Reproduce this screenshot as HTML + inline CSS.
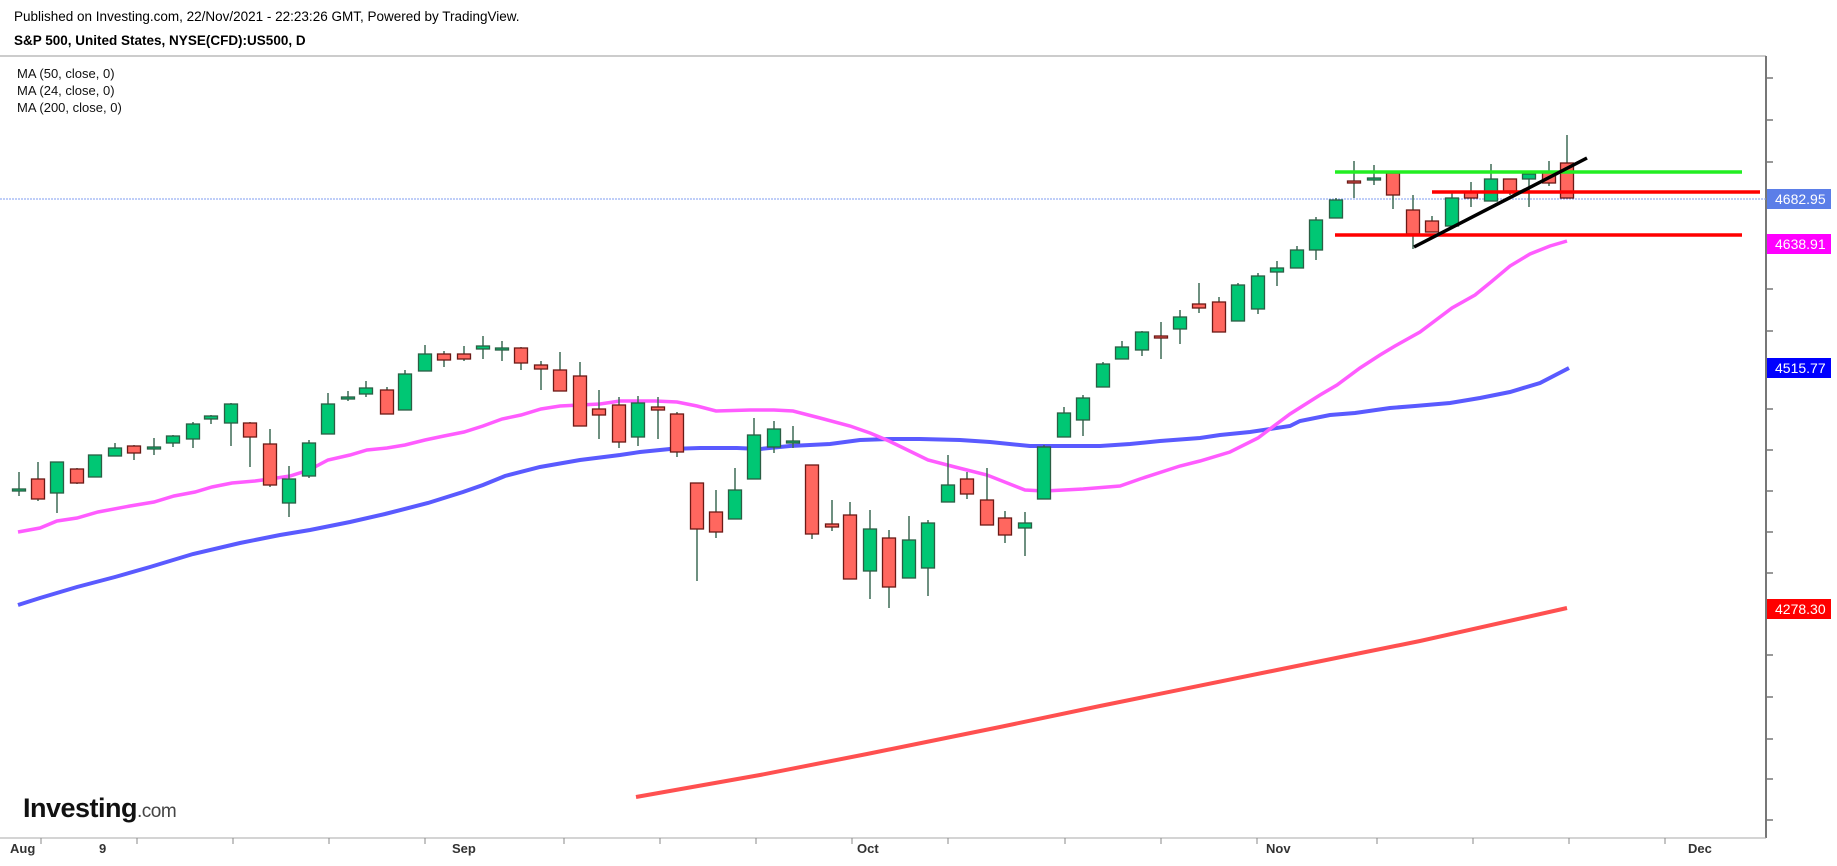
<!DOCTYPE html>
<html><head><meta charset="utf-8"><style>
html,body{margin:0;padding:0;background:#fff;width:1837px;height:866px;overflow:hidden}
svg{display:block}
text{font-family:"Liberation Sans",Arial,sans-serif}
.g{fill:#00c774;stroke:#2b5e44;stroke-width:1.3}
.r{fill:#ff675f;stroke:#6b1a16;stroke-width:1.3}
.w{stroke:#3d6b55;stroke-width:1.5}
</style></head><body>
<svg width="1837" height="866" viewBox="0 0 1837 866" xmlns="http://www.w3.org/2000/svg">
<text x="14" y="21" font-size="13.5" fill="#000">Published on Investing.com, 22/Nov/2021 - 22:23:26 GMT, Powered by TradingView.</text>
<text x="14" y="45" font-size="13.5" font-weight="bold" fill="#000">S&amp;P 500, United States, NYSE(CFD):US500, D</text>
<text x="17" y="78" font-size="13" fill="#111">MA (50, close, 0)</text>
<text x="17" y="95" font-size="13" fill="#111">MA (24, close, 0)</text>
<text x="17" y="112" font-size="13" fill="#111">MA (200, close, 0)</text>
<line x1="0" y1="56" x2="1766" y2="56" stroke="#999" stroke-width="1"/>
<line x1="1766" y1="56" x2="1766" y2="838" stroke="#777" stroke-width="2"/>
<line x1="0" y1="838" x2="1766" y2="838" stroke="#aaa" stroke-width="1"/>
<g stroke="#777" stroke-width="1.5">
<line x1="1766" y1="78" x2="1773" y2="78"/><line x1="1766" y1="120" x2="1773" y2="120"/><line x1="1766" y1="162" x2="1773" y2="162"/><line x1="1766" y1="247" x2="1773" y2="247"/><line x1="1766" y1="289" x2="1773" y2="289"/><line x1="1766" y1="331" x2="1773" y2="331"/><line x1="1766" y1="409" x2="1773" y2="409"/><line x1="1766" y1="450" x2="1773" y2="450"/><line x1="1766" y1="491" x2="1773" y2="491"/><line x1="1766" y1="532" x2="1773" y2="532"/><line x1="1766" y1="573" x2="1773" y2="573"/><line x1="1766" y1="655" x2="1773" y2="655"/><line x1="1766" y1="697" x2="1773" y2="697"/><line x1="1766" y1="739" x2="1773" y2="739"/><line x1="1766" y1="779" x2="1773" y2="779"/><line x1="1766" y1="820" x2="1773" y2="820"/>
</g>
<g stroke="#888" stroke-width="1">
<line x1="41" y1="838" x2="41" y2="844"/><line x1="137" y1="838" x2="137" y2="844"/><line x1="233" y1="838" x2="233" y2="844"/><line x1="329" y1="838" x2="329" y2="844"/><line x1="425" y1="838" x2="425" y2="844"/><line x1="564" y1="838" x2="564" y2="844"/><line x1="660" y1="838" x2="660" y2="844"/><line x1="756" y1="838" x2="756" y2="844"/><line x1="852" y1="838" x2="852" y2="844"/><line x1="948" y1="838" x2="948" y2="844"/><line x1="1065" y1="838" x2="1065" y2="844"/><line x1="1161" y1="838" x2="1161" y2="844"/><line x1="1257" y1="838" x2="1257" y2="844"/><line x1="1377" y1="838" x2="1377" y2="844"/><line x1="1473" y1="838" x2="1473" y2="844"/><line x1="1569" y1="838" x2="1569" y2="844"/><line x1="1665" y1="838" x2="1665" y2="844"/>
</g>
<g font-size="13" fill="#333" font-weight="bold">
<text x="10" y="853">Aug</text><text x="99" y="853">9</text><text x="452" y="853">Sep</text><text x="857" y="853">Oct</text><text x="1266" y="853">Nov</text><text x="1688" y="853">Dec</text>
</g>
<line x1="0" y1="199" x2="1766" y2="199" stroke="#7f9cf0" stroke-width="1" stroke-dasharray="2,1"/>
<!-- MAs -->
<polyline fill="none" stroke="#5a5aff" stroke-width="4" points="18,605 40,598 77,587 115,577 150,567 193,554 240,543 280,535 310,530 350,522 385,514 428,503 463,492 483,485 505,476 540,467 580,460 620,455 640,452 670,449 700,448 737,448 760,449 790,446 830,444 860,440 890,439 920,439 960,440 990,442 1030,446 1060,446 1100,446 1130,444 1160,441 1200,438 1220,435 1250,432 1290,426 1300,421 1330,415 1355,413 1390,408 1415,406 1450,403 1480,398 1510,392 1540,383 1569,368"/>
<polyline fill="none" stroke="#ff5cff" stroke-width="3.5" points="18,532 40,528 57,521 77,518 98,512 130,506 154,502 174,496 195,492 212,487 232,483 255,481 270,479 290,476 309,470 328,460 350,455 367,450 387,448 405,445 425,440 444,436 464,432 483,426 502,419 521,415 541,409 560,406 580,405 600,404 620,401 655,401 677,402 697,406 716,411 750,410 774,410 793,411 820,418 850,426 870,433 889,441 928,460 955,467 987,475 1025,490 1044,491 1064,490 1083,489 1120,486 1140,479 1180,466 1200,461 1230,452 1258,438 1290,414 1320,395 1337,385 1360,368 1380,355 1395,346 1420,332 1452,308 1475,295 1491,282 1510,266 1530,254 1550,246 1567,241"/>
<polyline fill="none" stroke="#ff5050" stroke-width="4" points="636,797 760,775 867,754 1000,727 1100,706 1277,670 1420,641 1567,608"/>
<!-- candles -->
<g>
<line class="w" x1="19" y1="472" x2="19" y2="496"/><rect class="g" x="12.5" y="489" width="13" height="2"/>
<line class="w" x1="38" y1="462" x2="38" y2="501"/><rect class="r" x="31.5" y="479" width="13" height="20"/>
<line class="w" x1="57" y1="462" x2="57" y2="513"/><rect class="g" x="50.5" y="462" width="13" height="31"/>
<line class="w" x1="77" y1="468" x2="77" y2="484"/><rect class="r" x="70.5" y="469" width="13" height="14"/>
<line class="w" x1="95" y1="455" x2="95" y2="477"/><rect class="g" x="88.5" y="455" width="13" height="22"/>
<line class="w" x1="115" y1="443" x2="115" y2="456"/><rect class="g" x="108.5" y="448" width="13" height="8"/>
<line class="w" x1="134" y1="445" x2="134" y2="460"/><rect class="r" x="127.5" y="446" width="13" height="7"/>
<line class="w" x1="154" y1="438" x2="154" y2="455"/><rect class="g" x="147.5" y="447" width="13" height="2"/>
<line class="w" x1="173" y1="435" x2="173" y2="447"/><rect class="g" x="166.5" y="436" width="13" height="7"/>
<line class="w" x1="193" y1="422" x2="193" y2="448"/><rect class="g" x="186.5" y="424" width="13" height="15"/>
<line class="w" x1="211" y1="415" x2="211" y2="424"/><rect class="g" x="204.5" y="416" width="13" height="3"/>
<line class="w" x1="231" y1="403" x2="231" y2="446"/><rect class="g" x="224.5" y="404" width="13" height="19"/>
<line class="w" x1="250" y1="422" x2="250" y2="467"/><rect class="r" x="243.5" y="423" width="13" height="14"/>
<line class="w" x1="270" y1="429" x2="270" y2="487"/><rect class="r" x="263.5" y="444" width="13" height="41"/>
<line class="w" x1="289" y1="466" x2="289" y2="517"/><rect class="g" x="282.5" y="479" width="13" height="24"/>
<line class="w" x1="309" y1="440" x2="309" y2="478"/><rect class="g" x="302.5" y="443" width="13" height="33"/>
<line class="w" x1="328" y1="393" x2="328" y2="434"/><rect class="g" x="321.5" y="404" width="13" height="30"/>
<line class="w" x1="348" y1="391" x2="348" y2="401"/><rect class="g" x="341.5" y="397" width="13" height="2"/>
<line class="w" x1="366" y1="381" x2="366" y2="397"/><rect class="g" x="359.5" y="388" width="13" height="6"/>
<line class="w" x1="387" y1="387" x2="387" y2="414"/><rect class="r" x="380.5" y="390" width="13" height="24"/>
<line class="w" x1="405" y1="370" x2="405" y2="410"/><rect class="g" x="398.5" y="374" width="13" height="36"/>
<line class="w" x1="425" y1="345" x2="425" y2="371"/><rect class="g" x="418.5" y="354" width="13" height="17"/>
<line class="w" x1="444" y1="351" x2="444" y2="367"/><rect class="r" x="437.5" y="354" width="13" height="6"/>
<line class="w" x1="464" y1="346" x2="464" y2="361"/><rect class="r" x="457.5" y="354" width="13" height="5"/>
<line class="w" x1="483" y1="336" x2="483" y2="359"/><rect class="g" x="476.5" y="346" width="13" height="3"/>
<line class="w" x1="502" y1="341" x2="502" y2="361"/><rect class="g" x="495.5" y="348" width="13" height="2"/>
<line class="w" x1="521" y1="347" x2="521" y2="370"/><rect class="r" x="514.5" y="348" width="13" height="15"/>
<line class="w" x1="541" y1="361" x2="541" y2="390"/><rect class="r" x="534.5" y="365" width="13" height="4"/>
<line class="w" x1="560" y1="352" x2="560" y2="391"/><rect class="r" x="553.5" y="370" width="13" height="21"/>
<line class="w" x1="580" y1="362" x2="580" y2="426"/><rect class="r" x="573.5" y="376" width="13" height="50"/>
<line class="w" x1="599" y1="390" x2="599" y2="439"/><rect class="r" x="592.5" y="409" width="13" height="6"/>
<line class="w" x1="619" y1="397" x2="619" y2="448"/><rect class="r" x="612.5" y="405" width="13" height="37"/>
<line class="w" x1="638" y1="396" x2="638" y2="446"/><rect class="g" x="631.5" y="403" width="13" height="34"/>
<line class="w" x1="658" y1="397" x2="658" y2="439"/><rect class="r" x="651.5" y="407" width="13" height="3"/>
<line class="w" x1="677" y1="412" x2="677" y2="457"/><rect class="r" x="670.5" y="414" width="13" height="38"/>
<line class="w" x1="697" y1="483" x2="697" y2="581"/><rect class="r" x="690.5" y="483" width="13" height="46"/>
<line class="w" x1="716" y1="490" x2="716" y2="538"/><rect class="r" x="709.5" y="512" width="13" height="20"/>
<line class="w" x1="735" y1="468" x2="735" y2="519"/><rect class="g" x="728.5" y="490" width="13" height="29"/>
<line class="w" x1="754" y1="418" x2="754" y2="479"/><rect class="g" x="747.5" y="435" width="13" height="44"/>
<line class="w" x1="774" y1="421" x2="774" y2="453"/><rect class="g" x="767.5" y="429" width="13" height="18"/>
<line class="w" x1="793" y1="426" x2="793" y2="448"/><rect class="g" x="786.5" y="441" width="13" height="2"/>
<line class="w" x1="812" y1="465" x2="812" y2="539"/><rect class="r" x="805.5" y="465" width="13" height="69"/>
<line class="w" x1="832" y1="500" x2="832" y2="531"/><rect class="r" x="825.5" y="524" width="13" height="3"/>
<line class="w" x1="850" y1="502" x2="850" y2="579"/><rect class="r" x="843.5" y="515" width="13" height="64"/>
<line class="w" x1="870" y1="510" x2="870" y2="599"/><rect class="g" x="863.5" y="529" width="13" height="42"/>
<line class="w" x1="889" y1="530" x2="889" y2="608"/><rect class="r" x="882.5" y="538" width="13" height="49"/>
<line class="w" x1="909" y1="516" x2="909" y2="578"/><rect class="g" x="902.5" y="540" width="13" height="38"/>
<line class="w" x1="928" y1="520" x2="928" y2="596"/><rect class="g" x="921.5" y="523" width="13" height="45"/>
<line class="w" x1="948" y1="455" x2="948" y2="502"/><rect class="g" x="941.5" y="485" width="13" height="17"/>
<line class="w" x1="967" y1="472" x2="967" y2="499"/><rect class="r" x="960.5" y="479" width="13" height="15"/>
<line class="w" x1="987" y1="468" x2="987" y2="525"/><rect class="r" x="980.5" y="500" width="13" height="25"/>
<line class="w" x1="1005" y1="511" x2="1005" y2="543"/><rect class="r" x="998.5" y="518" width="13" height="17"/>
<line class="w" x1="1025" y1="512" x2="1025" y2="556"/><rect class="g" x="1018.5" y="523" width="13" height="5"/>
<line class="w" x1="1044" y1="445" x2="1044" y2="499"/><rect class="g" x="1037.5" y="447" width="13" height="52"/>
<line class="w" x1="1064" y1="407" x2="1064" y2="437"/><rect class="g" x="1057.5" y="413" width="13" height="24"/>
<line class="w" x1="1083" y1="395" x2="1083" y2="436"/><rect class="g" x="1076.5" y="398" width="13" height="22"/>
<line class="w" x1="1103" y1="362" x2="1103" y2="387"/><rect class="g" x="1096.5" y="364" width="13" height="23"/>
<line class="w" x1="1122" y1="341" x2="1122" y2="359"/><rect class="g" x="1115.5" y="347" width="13" height="12"/>
<line class="w" x1="1142" y1="331" x2="1142" y2="356"/><rect class="g" x="1135.5" y="332" width="13" height="18"/>
<line class="w" x1="1161" y1="322" x2="1161" y2="359"/><rect class="r" x="1154.5" y="336" width="13" height="2"/>
<line class="w" x1="1180" y1="310" x2="1180" y2="344"/><rect class="g" x="1173.5" y="317" width="13" height="12"/>
<line class="w" x1="1199" y1="283" x2="1199" y2="313"/><rect class="r" x="1192.5" y="304" width="13" height="4"/>
<line class="w" x1="1219" y1="297" x2="1219" y2="332"/><rect class="r" x="1212.5" y="302" width="13" height="30"/>
<line class="w" x1="1238" y1="283" x2="1238" y2="321"/><rect class="g" x="1231.5" y="285" width="13" height="36"/>
<line class="w" x1="1258" y1="273" x2="1258" y2="314"/><rect class="g" x="1251.5" y="276" width="13" height="33"/>
<line class="w" x1="1277" y1="261" x2="1277" y2="286"/><rect class="g" x="1270.5" y="268" width="13" height="4"/>
<line class="w" x1="1297" y1="246" x2="1297" y2="268"/><rect class="g" x="1290.5" y="250" width="13" height="18"/>
<line class="w" x1="1316" y1="217" x2="1316" y2="260"/><rect class="g" x="1309.5" y="220" width="13" height="30"/>
<line class="w" x1="1336" y1="198" x2="1336" y2="218"/><rect class="g" x="1329.5" y="200" width="13" height="18"/>
<line class="w" x1="1354" y1="161" x2="1354" y2="198"/><rect class="r" x="1347.5" y="181" width="13" height="2"/>
<line class="w" x1="1374" y1="165" x2="1374" y2="185"/><rect class="g" x="1367.5" y="178" width="13" height="2"/>
<line class="w" x1="1393" y1="172" x2="1393" y2="209"/><rect class="r" x="1386.5" y="173" width="13" height="22"/>
<line class="w" x1="1413" y1="195" x2="1413" y2="249"/><rect class="r" x="1406.5" y="210" width="13" height="24"/>
<line class="w" x1="1432" y1="216" x2="1432" y2="232"/><rect class="r" x="1425.5" y="221" width="13" height="11"/>
<line class="w" x1="1452" y1="192" x2="1452" y2="226"/><rect class="g" x="1445.5" y="198" width="13" height="28"/>
<line class="w" x1="1471" y1="182" x2="1471" y2="207"/><rect class="r" x="1464.5" y="192" width="13" height="6"/>
<line class="w" x1="1491" y1="164" x2="1491" y2="201"/><rect class="g" x="1484.5" y="179" width="13" height="22"/>
<line class="w" x1="1510" y1="179" x2="1510" y2="195"/><rect class="r" x="1503.5" y="179" width="13" height="12"/>
<line class="w" x1="1529" y1="172" x2="1529" y2="207"/><rect class="g" x="1522.5" y="174" width="13" height="5"/>
<line class="w" x1="1549" y1="161" x2="1549" y2="186"/><rect class="r" x="1542.5" y="172" width="13" height="11"/>
<line class="w" x1="1567" y1="135" x2="1567" y2="198"/><rect class="r" x="1560.5" y="163" width="13" height="35"/>
</g>
<!-- drawn lines -->
<line x1="1335" y1="172" x2="1742" y2="172" stroke="#22ee22" stroke-width="3.5"/>
<line x1="1432" y1="192" x2="1760" y2="192" stroke="#ff0000" stroke-width="3.5"/>
<line x1="1335" y1="235" x2="1742" y2="235" stroke="#ff0000" stroke-width="3.5"/>
<line x1="1414" y1="247" x2="1587" y2="158" stroke="#000" stroke-width="3.5"/>
<!-- labels -->
<g font-size="14" fill="#fff">
<rect x="1767" y="189" width="64" height="20" fill="#5b7ee8"/><text x="1775" y="204">4682.95</text>
<rect x="1767" y="234" width="64" height="20" fill="#ff00ff"/><text x="1775" y="249">4638.91</text>
<rect x="1767" y="358" width="64" height="20" fill="#0000ff"/><text x="1775" y="373">4515.77</text>
<rect x="1767" y="599" width="64" height="20" fill="#ff0000"/><text x="1775" y="614">4278.30</text>
</g>
<text x="23" y="817" font-size="27" font-weight="bold" fill="#111" letter-spacing="-0.5">Investing<tspan font-size="19" font-weight="normal" fill="#444">.com</tspan></text>
</svg>
</body></html>
